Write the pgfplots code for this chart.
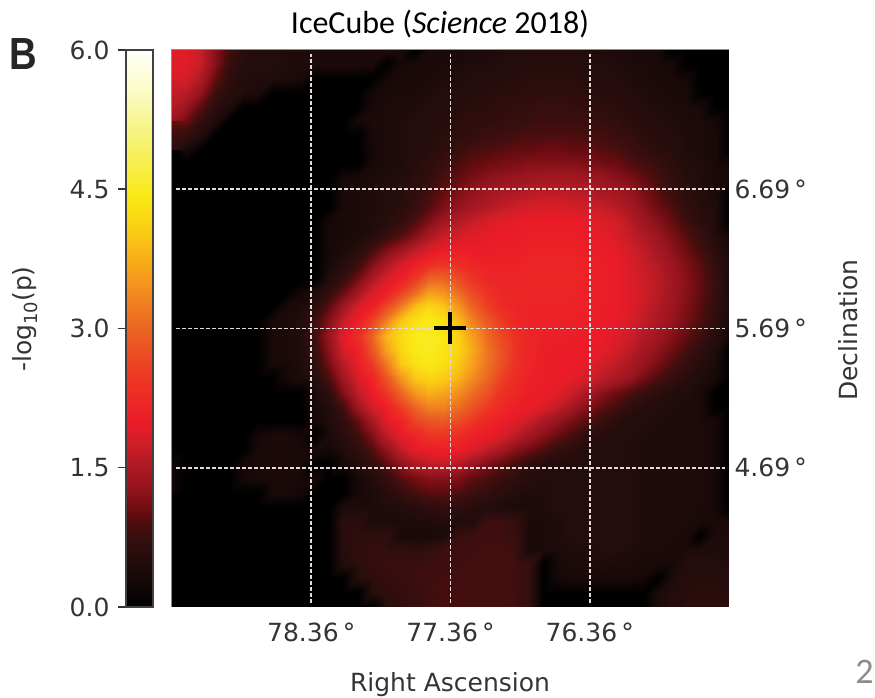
\documentclass[border=0pt]{standalone}
\usepackage{pgfplots}
\pgfplotsset{compat=1.18}
\usepackage{fontspec}
\setmainfont{DejaVu Sans}
\newfontfamily\carlito{Carlito}
\newfontfamily\libb{Liberation Sans}
\definecolor{txt}{RGB}{52,52,52}
\definecolor{gridc}{RGB}{228,218,218}
\pgfplotsset{colormap={icehot}{
rgb255(0pt)=(0,0,0);
rgb255(30pt)=(22,8,8);
rgb255(50pt)=(35,12,12);
rgb255(75pt)=(55,14,14);
rgb255(90pt)=(75,14,14);
rgb255(100pt)=(100,12,16);
rgb255(130pt)=(150,20,30);
rgb255(150pt)=(170,25,35);
rgb255(175pt)=(205,30,40);
rgb255(200pt)=(235,28,40);
rgb255(240pt)=(237,50,36);
rgb255(300pt)=(235,100,35);
rgb255(350pt)=(245,150,30);
rgb255(400pt)=(250,200,20);
rgb255(440pt)=(250,232,20);
rgb255(500pt)=(246,242,110);
rgb255(550pt)=(250,250,190);
rgb255(600pt)=(255,255,250)}}
\newcommand{\fs}{\fontsize{25}{30}\selectfont}
\begin{document}
\begin{tikzpicture}[x=1pt,y=1pt]
\path[use as bounding box] (0,0) rectangle (875,698);
\begin{axis}[
  at={(126pt,91pt)},anchor=south west,
  scale only axis,width=27pt,height=557pt,
  xmin=0,xmax=1,ymin=0,ymax=6,
  enlargelimits=false,
  colormap name=icehot,
  point meta min=0,point meta max=6,
  xtick=\empty,
  ytick={0,1.5,3,4.5,6},
  ytick pos=left,
  major tick length=8pt,
  tick align=outside,
  tick style={draw=txt,line width=1.5pt},
  axis line style={draw=black!75,line width=1.3pt},
  axis on top,
  yticklabel style={font=\fs,text=txt,xshift=-5pt,/pgf/number format/fixed,/pgf/number format/fixed zerofill,/pgf/number format/precision=1,/pgf/number format/assume math mode=true},
]
\addplot[surf,shader=interp,mesh/cols=2,point meta=y] coordinates {(0,0) (1,0) (0,6) (1,6)};
\end{axis}
\begin{axis}[
  at={(172pt,91pt)},anchor=south west,
  scale only axis,width=557pt,height=557pt,
  xmin=75.36,xmax=79.36,ymin=3.69,ymax=7.69,
  x dir=reverse,
  enlargelimits=false,
  axis line style={draw=black!45,line width=1pt},
  xtick={78.36,77.36,76.36},
  xticklabels={78.36\,°,77.36\,°,76.36\,°},
  ytick={6.69,5.69,4.69},
  yticklabels={6.69\,°,5.69\,°,4.69\,°},
  yticklabel pos=right,
  major tick length=0pt,
  tick style={draw=none},
  xticklabel style={font=\fs,text=txt,yshift=-12pt},
  yticklabel style={font=\fs,text=txt,xshift=2pt},
  colormap name=icehot,
  point meta min=0,point meta max=6,
]
\addplot[surf,shader=interp,mesh/cols=40,point meta=explicit]
 table[row sep=crcr,header=false,meta index=0,
 x expr={79.36-mod(\coordindex,40)*4/39},
 y expr={7.69-floor(\coordindex/40)*4/39}] {
1.9\\1.9\\1.7\\1.2\\0.8\\0.6\\0.5\\0.5\\0.45\\0.45\\0.4\\0.4\\0.4\\0.4\\0.4\\0.4\\0.4\\0\\0.35\\0.35\\0.4\\0.4\\0.4\\0.45\\0.5\\0.5\\0.5\\0.5\\0.5\\0.45\\0.45\\0.4\\0.4\\0.35\\0.3\\0\\0\\0\\0\\0\\
1.9\\1.9\\1.7\\1.2\\0.75\\0.55\\0.5\\0.5\\0.45\\0.45\\0.4\\0.4\\0.4\\0.4\\0.35\\0\\0.3\\0.35\\0.4\\0.4\\0.4\\0.45\\0.45\\0.5\\0.5\\0.55\\0.55\\0.55\\0.55\\0.5\\0.5\\0.45\\0.4\\0.4\\0.35\\0.3\\0\\0\\0\\0\\
1.85\\1.8\\1.5\\1\\0.65\\0.5\\0.45\\0.45\\0.4\\0.35\\0\\0\\0\\0\\0\\0.3\\0.35\\0.4\\0.4\\0.45\\0.45\\0.5\\0.5\\0.55\\0.55\\0.6\\0.6\\0.6\\0.6\\0.55\\0.5\\0.5\\0.45\\0.4\\0.4\\0.35\\0.3\\0\\0\\0\\
1.8\\1.6\\1.25\\0.8\\0.55\\0.45\\0.4\\0\\0\\0\\0\\0\\0\\0\\0.3\\0.35\\0.4\\0.4\\0.45\\0.5\\0.5\\0.55\\0.55\\0.6\\0.6\\0.65\\0.65\\0.65\\0.65\\0.6\\0.55\\0.55\\0.5\\0.45\\0.4\\0.4\\0.35\\0\\0\\0\\
1.55\\1.35\\0.95\\0.6\\0.45\\0\\0\\0\\0\\0\\0\\0\\0\\0\\0.35\\0.4\\0.45\\0.45\\0.5\\0.55\\0.55\\0.6\\0.6\\0.65\\0.7\\0.7\\0.75\\0.75\\0.7\\0.7\\0.65\\0.6\\0.55\\0.5\\0.45\\0.4\\0.4\\0.35\\0\\0\\
1.35\\1.05\\0.7\\0.45\\0\\0\\0\\0\\0\\0\\0\\0\\0\\0.3\\0.4\\0.4\\0.45\\0.5\\0.5\\0.55\\0.6\\0.65\\0.65\\0.7\\0.72\\0.75\\0.8\\0.8\\0.8\\0.75\\0.72\\0.7\\0.6\\0.55\\0.5\\0.45\\0.4\\0.4\\0.3\\0\\
1\\0.7\\0.45\\0\\0\\0\\0\\0\\0\\0\\0\\0\\0\\0\\0.35\\0.4\\0.45\\0.5\\0.55\\0.6\\0.65\\0.72\\0.78\\0.82\\0.85\\0.9\\0.9\\0.9\\0.9\\0.88\\0.85\\0.78\\0.7\\0.6\\0.55\\0.5\\0.45\\0.4\\0.35\\0\\
0.6\\0.35\\0\\0\\0\\0\\0\\0\\0\\0\\0\\0\\0\\0\\0.3\\0.4\\0.45\\0.5\\0.55\\0.65\\0.75\\0.85\\0.9\\0.95\\1\\1\\1.05\\1.05\\1\\1\\0.95\\0.9\\0.8\\0.7\\0.6\\0.55\\0.45\\0.4\\0.35\\0\\
0\\0\\0\\0\\0\\0\\0\\0\\0\\0\\0\\0\\0\\0\\0.35\\0.4\\0.45\\0.55\\0.65\\0.75\\0.9\\1\\1.05\\1.1\\1.15\\1.2\\1.2\\1.2\\1.2\\1.15\\1.1\\1.05\\0.95\\0.85\\0.75\\0.6\\0.5\\0.45\\0.35\\0.3\\
0\\0\\0\\0\\0\\0\\0\\0\\0\\0\\0\\0\\0.3\\0.35\\0.4\\0.45\\0.5\\0.6\\0.7\\0.9\\1\\1.15\\1.25\\1.3\\1.35\\1.4\\1.45\\1.45\\1.45\\1.4\\1.35\\1.25\\1.15\\1\\0.85\\0.7\\0.55\\0.45\\0.35\\0.3\\
0\\0\\0\\0\\0\\0\\0\\0\\0\\0\\0\\0\\0.35\\0.4\\0.45\\0.5\\0.55\\0.65\\0.85\\1\\1.15\\1.3\\1.4\\1.5\\1.55\\1.6\\1.65\\1.65\\1.6\\1.6\\1.5\\1.45\\1.35\\1.15\\0.95\\0.8\\0.6\\0.5\\0.4\\0\\
0\\0\\0\\0\\0\\0\\0\\0\\0\\0\\0\\0\\0.35\\0.4\\0.45\\0.5\\0.6\\0.75\\0.95\\1.15\\1.3\\1.45\\1.55\\1.65\\1.75\\1.8\\1.85\\1.85\\1.8\\1.75\\1.7\\1.6\\1.45\\1.25\\1.05\\0.9\\0.7\\0.55\\0.45\\0\\
0\\0\\0\\0\\0\\0\\0\\0\\0\\0\\0\\0.3\\0.35\\0.4\\0.45\\0.55\\0.7\\0.9\\1.15\\1.4\\1.55\\1.7\\1.8\\1.9\\1.95\\2\\2\\2\\2\\1.95\\1.9\\1.8\\1.6\\1.4\\1.2\\1\\0.8\\0.6\\0.45\\0\\
0\\0\\0\\0\\0\\0\\0\\0\\0\\0\\0\\0.3\\0.35\\0.4\\0.55\\0.75\\0.95\\1.2\\1.5\\1.7\\1.8\\1.9\\1.95\\2\\2\\2.05\\2.05\\2.05\\2.05\\2\\1.95\\1.85\\1.7\\1.55\\1.35\\1.15\\0.95\\0.75\\0.5\\0.3\\
0\\0\\0\\0\\0\\0\\0\\0\\0\\0\\0\\0.3\\0.4\\0.6\\0.85\\1.15\\1.4\\1.65\\1.85\\2\\2.05\\2\\2\\2.05\\2.05\\2.1\\2.1\\2.1\\2.1\\2.05\\2\\1.95\\1.8\\1.65\\1.45\\1.25\\1.05\\0.85\\0.6\\0.35\\
0\\0\\0\\0\\0\\0\\0\\0\\0\\0\\0\\0.35\\0.55\\0.8\\1.15\\1.5\\1.8\\2.05\\2.3\\2.4\\2.3\\2.15\\2.1\\2.1\\2.1\\2.15\\2.15\\2.15\\2.15\\2.1\\2.05\\2\\1.85\\1.7\\1.55\\1.35\\1.15\\0.95\\0.7\\0.4\\
0\\0\\0\\0\\0\\0\\0\\0\\0\\0\\0\\0.5\\0.75\\1.1\\1.5\\1.85\\2.1\\2.5\\3\\3\\2.7\\2.4\\2.2\\2.15\\2.15\\2.15\\2.15\\2.15\\2.15\\2.1\\2.05\\2\\1.9\\1.75\\1.6\\1.4\\1.2\\1\\0.75\\0.4\\
0\\0\\0\\0\\0\\0\\0\\0\\0\\0.3\\0.45\\0.7\\1.05\\1.45\\1.85\\2.1\\2.6\\3.1\\3.6\\3.5\\3.1\\2.7\\2.4\\2.2\\2.15\\2.15\\2.15\\2.15\\2.15\\2.1\\2.05\\2\\1.9\\1.75\\1.6\\1.4\\1.2\\1\\0.75\\0.4\\
0\\0\\0\\0\\0\\0\\0\\0\\0.35\\0.4\\0.65\\1\\1.4\\1.85\\2.1\\2.7\\3.3\\3.9\\4.2\\4\\3.5\\3\\2.6\\2.3\\2.15\\2.1\\2.1\\2.1\\2.1\\2.1\\2.05\\2\\1.9\\1.7\\1.55\\1.35\\1.15\\0.95\\0.7\\0.4\\
0\\0\\0\\0\\0\\0\\0\\0.35\\0.4\\0.5\\0.8\\1.2\\1.7\\2.05\\2.6\\3.3\\4\\4.3\\4.45\\4.3\\3.9\\3.3\\2.9\\2.5\\2.2\\2.1\\2.1\\2.1\\2.1\\2.05\\2\\1.95\\1.85\\1.65\\1.5\\1.3\\1.1\\0.9\\0.65\\0.35\\
0\\0\\0\\0\\0\\0\\0\\0.35\\0.4\\0.5\\0.85\\1.35\\1.9\\2.3\\3\\3.8\\4.25\\4.45\\4.5\\4.4\\4.1\\3.6\\3.1\\2.7\\2.35\\2.15\\2.1\\2.05\\2.05\\2\\2\\1.9\\1.75\\1.55\\1.4\\1.2\\1\\0.8\\0.55\\0.3\\
0\\0\\0\\0\\0\\0\\0\\0.35\\0.4\\0.45\\0.75\\1.25\\1.8\\2.1\\2.8\\3.6\\4.2\\4.4\\4.5\\4.35\\4.15\\3.7\\3.2\\2.8\\2.4\\2.15\\2.05\\2\\2\\2\\1.95\\1.8\\1.65\\1.45\\1.25\\1.05\\0.85\\0.65\\0.45\\0\\
0\\0\\0\\0\\0\\0\\0\\0.3\\0.35\\0.45\\0.65\\1.1\\1.6\\2\\2.5\\3.2\\4\\4.3\\4.4\\4.3\\4\\3.6\\3.2\\2.8\\2.35\\2.15\\2.05\\2\\2\\1.95\\1.8\\1.65\\1.5\\1.3\\1.1\\0.9\\0.7\\0.55\\0.4\\0\\
0\\0\\0\\0\\0\\0\\0\\0\\0.3\\0.4\\0.55\\0.9\\1.4\\1.85\\2.15\\2.8\\3.5\\4\\4.15\\4.05\\3.8\\3.4\\3.05\\2.6\\2.3\\2.1\\2.05\\2\\1.95\\1.8\\1.65\\1.5\\1.35\\1.1\\0.9\\0.75\\0.55\\0.45\\0.35\\0\\
0\\0\\0\\0\\0\\0\\0\\0\\0\\0\\0.4\\0.65\\1.15\\1.65\\2\\2.4\\3\\3.5\\3.75\\3.65\\3.4\\3.1\\2.8\\2.4\\2.2\\2.05\\2\\1.9\\1.7\\1.5\\1.25\\1.05\\0.9\\0.75\\0.6\\0.5\\0.45\\0.35\\0\\0\\
0\\0\\0\\0\\0\\0\\0\\0\\0\\0\\0.35\\0.5\\0.85\\1.4\\1.8\\2.05\\2.55\\3\\3.3\\3.3\\3.1\\2.8\\2.5\\2.25\\2.05\\2\\1.85\\1.65\\1.45\\1.2\\1\\0.85\\0.65\\0.55\\0.5\\0.45\\0.45\\0.4\\0\\0\\
0\\0\\0\\0\\0\\0\\0\\0\\0\\0\\0.3\\0.45\\0.65\\1\\1.45\\1.9\\2.15\\2.6\\2.8\\2.85\\2.7\\2.45\\2.2\\2.05\\1.9\\1.7\\1.5\\1.3\\1.1\\0.95\\0.75\\0.6\\0.5\\0.5\\0.45\\0.45\\0.45\\0.4\\0.3\\0\\
0\\0\\0\\0\\0\\0\\0.3\\0.4\\0.4\\0.3\\0\\0.4\\0.55\\0.8\\1.15\\1.6\\1.95\\2.15\\2.4\\2.4\\2.3\\2.1\\2\\1.85\\1.6\\1.4\\1.2\\1\\0.85\\0.65\\0.55\\0.5\\0.5\\0.45\\0.45\\0.45\\0.45\\0.4\\0.3\\0\\
0\\0\\0\\0\\0\\0\\0.35\\0.4\\0.4\\0.35\\0.35\\0.3\\0.45\\0.65\\0.9\\1.25\\1.65\\1.95\\2\\2.05\\2\\1.85\\1.65\\1.45\\1.2\\1.05\\0.9\\0.7\\0.6\\0.5\\0.5\\0.5\\0.45\\0.45\\0.45\\0.45\\0.45\\0.4\\0.3\\0\\
0.2\\0\\0\\0\\0\\0.3\\0.35\\0.4\\0.4\\0.35\\0\\0\\0.35\\0.5\\0.7\\0.95\\1.25\\1.5\\1.65\\1.65\\1.55\\1.35\\1.15\\1\\0.85\\0.65\\0.55\\0.5\\0.5\\0.5\\0.5\\0.5\\0.5\\0.45\\0.45\\0.45\\0.45\\0.4\\0.3\\0\\
0.2\\0\\0\\0\\0\\0.3\\0.35\\0.4\\0.4\\0.3\\0.3\\0\\0\\0.35\\0.5\\0.7\\0.95\\1.1\\1.2\\1.2\\1.15\\1\\0.9\\0.75\\0.65\\0.55\\0.5\\0.5\\0.5\\0.5\\0.5\\0.5\\0.5\\0.45\\0.45\\0.45\\0.45\\0.4\\0.3\\0\\
0.2\\0\\0\\0\\0\\0\\0\\0.35\\0.35\\0.3\\0\\0\\0\\0.3\\0.4\\0.55\\0.7\\0.85\\0.95\\0.95\\0.9\\0.8\\0.7\\0.6\\0.5\\0.45\\0.45\\0.5\\0.5\\0.5\\0.5\\0.5\\0.5\\0.45\\0.45\\0.45\\0.45\\0.4\\0.3\\0\\
0\\0\\0\\0\\0\\0\\0\\0\\0\\0\\0\\0\\0.45\\0.4\\0.4\\0.45\\0.5\\0.55\\0.65\\0.7\\0.65\\0.55\\0.5\\0.45\\0.4\\0.4\\0.45\\0.5\\0.5\\0.5\\0.5\\0.5\\0.5\\0.45\\0.45\\0.45\\0.45\\0.4\\0.3\\0\\
0\\0\\0\\0\\0\\0\\0\\0\\0\\0\\0\\0\\0.6\\0.6\\0.4\\0.4\\0.4\\0.45\\0.45\\0.5\\0.5\\0.45\\0.8\\0.8\\0.7\\0.4\\0.4\\0.45\\0.5\\0.5\\0.5\\0.5\\0.5\\0.45\\0.45\\0.45\\0.4\\0.35\\0.4\\0.35\\
0\\0\\0\\0\\0\\0\\0\\0\\0\\0\\0\\0\\0.6\\0.65\\0.65\\0.65\\0.35\\0.35\\0.35\\0.4\\0.75\\0.8\\0.8\\0.8\\0.75\\0.4\\0.4\\0.45\\0.5\\0.5\\0.5\\0.5\\0.5\\0.45\\0.45\\0.4\\0.4\\0\\0.4\\0.4\\
0\\0\\0\\0\\0\\0\\0\\0\\0\\0\\0\\0\\0.55\\0.65\\0.7\\0.7\\0.7\\0.65\\0.7\\0.8\\0.8\\0.8\\0.85\\0.85\\0.8\\0.35\\0.4\\0.4\\0.45\\0.45\\0.5\\0.5\\0.45\\0.4\\0.4\\0.35\\0.4\\0.45\\0.45\\0.4\\
0\\0\\0\\0\\0\\0\\0\\0\\0\\0\\0\\0\\0.5\\0.6\\0.7\\0.75\\0.75\\0.75\\0.8\\0.8\\0.8\\0.85\\0.85\\0.85\\0.8\\0.75\\0\\0.35\\0.4\\0.4\\0.45\\0.4\\0.4\\0.35\\0.35\\0.35\\0.5\\0.5\\0.5\\0.45\\
0\\0\\0\\0\\0\\0\\0\\0\\0\\0\\0\\0\\0\\0.55\\0.65\\0.7\\0.75\\0.8\\0.8\\0.85\\0.85\\0.85\\0.85\\0.85\\0.8\\0.75\\0\\0.3\\0.35\\0.35\\0.35\\0.35\\0.35\\0.3\\0\\0.4\\0.55\\0.55\\0.55\\0.5\\
0\\0\\0\\0\\0\\0\\0\\0\\0\\0\\0\\0\\0\\0\\0.55\\0.65\\0.7\\0.75\\0.8\\0.85\\0.85\\0.85\\0.85\\0.85\\0.8\\0.7\\0\\0\\0\\0\\0\\0\\0\\0\\0.4\\0.5\\0.55\\0.6\\0.6\\0.55\\
0\\0\\0\\0\\0\\0\\0\\0\\0\\0\\0\\0\\0\\0\\0\\0.55\\0.65\\0.75\\0.8\\0.85\\0.85\\0.85\\0.85\\0.85\\0.8\\0.7\\0\\0\\0\\0\\0\\0\\0\\0\\0.4\\0.5\\0.6\\0.6\\0.6\\0.55\\
};
\addplot[gridc,line width=1.8pt,dash pattern=on 3.5pt off 2.5pt,forget plot] coordinates {(78.36,3.72) (78.36,7.66)};
\addplot[gridc,line width=1.8pt,dash pattern=on 3.5pt off 2.5pt,forget plot] coordinates {(77.36,3.72) (77.36,7.66)};
\addplot[gridc,line width=1.8pt,dash pattern=on 3.5pt off 2.5pt,forget plot] coordinates {(76.36,3.72) (76.36,7.66)};
\addplot[gridc,line width=1.8pt,dash pattern=on 3.5pt off 2.5pt,forget plot] coordinates {(79.33,6.69) (75.39,6.69)};
\addplot[gridc,line width=1.8pt,dash pattern=on 3.5pt off 2.5pt,forget plot] coordinates {(79.33,5.69) (75.39,5.69)};
\addplot[gridc,line width=1.8pt,dash pattern=on 3.5pt off 2.5pt,forget plot] coordinates {(79.33,4.69) (75.39,4.69)};
\addplot[only marks,mark=+,mark size=16pt,mark options={draw=black,line width=4pt},forget plot] coordinates {(77.36,5.69)};
\end{axis}
\node[font=\carlito\fontsize{32}{36}\selectfont,text=black] at (440,674) {IceCube (\textit{Science} 2018)};
\node[font=\libb\bfseries\fontsize{45}{50}\selectfont,text=black!85,xscale=.85] at (23.5,643.5) {B};
\node[font=\fs,text=txt] at (450,13.5) {Right Ascension};
\node[font=\fs,text=txt,rotate=90] at (848,368) {Declination};
\node[font=\fs,text=txt,rotate=90] at (25.5,379) {-log\raisebox{-.25em}{\fontsize{18}{18}\selectfont 10}(p)};
\node[font=\carlito\fontsize{36}{40}\selectfont,text=black!45] at (864.5,26) {2};
\end{tikzpicture}
\end{document}
